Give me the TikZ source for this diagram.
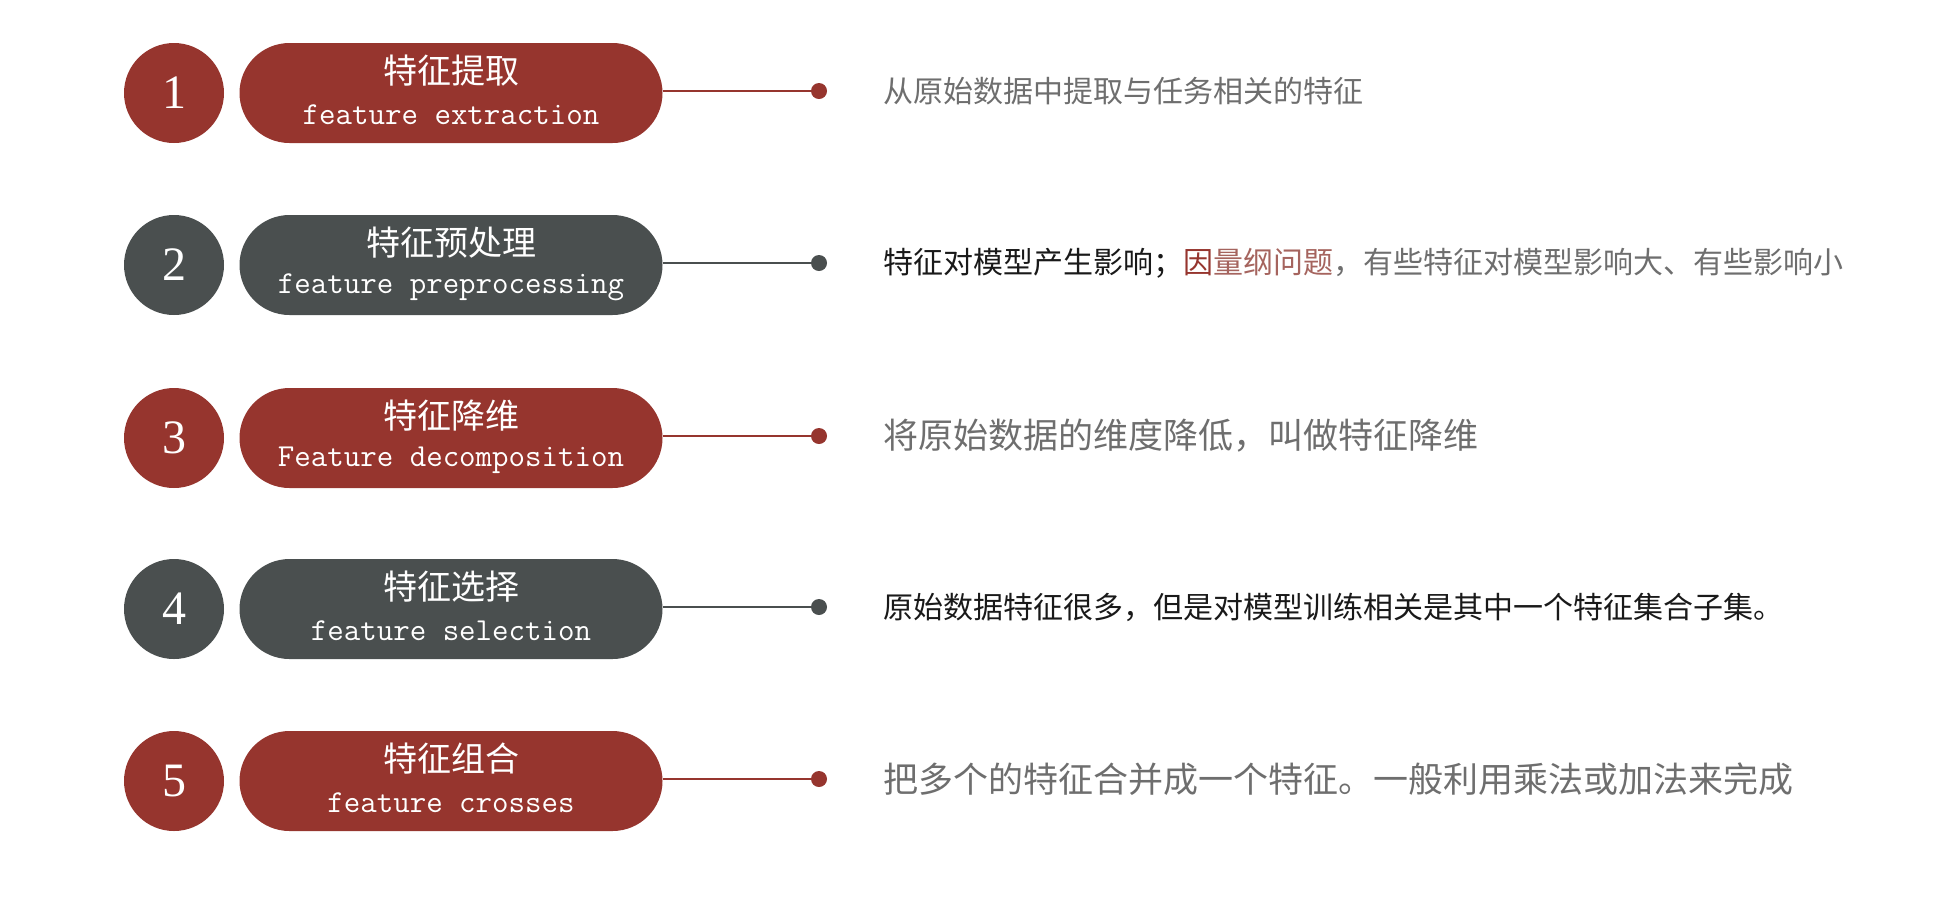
\documentclass[tikz,border=0pt]{standalone}
\usepackage{fontspec}
\setmainfont{Liberation Serif}
\newfontfamily\cjk{Noto Sans CJK SC}
\usetikzlibrary{shapes.misc,positioning}
\definecolor{brick}{HTML}{96352E}
\definecolor{slate}{HTML}{4A4F4F}
\definecolor{txtgray}{HTML}{6E6E6E}
\definecolor{lightbrick}{HTML}{A5645E}

\tikzset{
  numdisc/.style={circle,fill=#1,minimum size=50pt,inner sep=0pt,text=white,font=\fontsize{24}{26}\selectfont},
  pill/.style={rounded rectangle,fill=#1,minimum width=211.5pt,minimum height=50pt,inner sep=0pt},
  pilltext/.style={text=white,align=center},
  dot/.style={circle,fill=#1,minimum size=8pt,inner sep=0pt},
  desc/.style={anchor=west,inner sep=0pt,text=txtgray}
}

\begin{document}
\begin{tikzpicture}[x=0.5pt,y=-0.5pt]
  \useasboundingbox (0,0) rectangle (1940,896);

  % five rows: disc, pill with titles, connector and dot
  \foreach \i/\col/\y/\zh/\en in {
      1/brick/93/特征提取/feature extraction,
      2/slate/265/特征预处理/feature preprocessing,
      3/brick/438/特征降维/Feature decomposition,
      4/slate/609/特征选择/feature selection,
      5/brick/781/特征组合/feature crosses} {
    \node[numdisc=\col] (num\i) at (174,\y) {\i};
    \node[pill=\col] (step\i) at (451,\y) {};
    \node[pilltext,font=\cjk\fontsize{17}{19}\selectfont] (zh\i) at (451,\y-22) {\zh};
    \node[pilltext,font=\ttfamily\fontsize{16}{18}\selectfont] (en\i) at (451,\y+22) {\en};
    \node[dot=\col] (dot\i) at (819,\y-2) {};
    \draw[\col,line width=1.2pt] (step\i.east |- dot\i) -- (dot\i);
  }

  % descriptions
  \node[desc,font=\cjk\fontsize{15}{17}\selectfont,right=28pt of dot1] (txt1)
    {从原始数据中提取与任务相关的特征};
  \node[desc,font=\cjk\fontsize{15}{17}\selectfont,right=28pt of dot2] (txt2)
    {{\color{black!90}特征对模型产生影响；}{\color{brick}因}{\color{lightbrick}量纲问题}，有些特征对模型影响大、有些影响小};
  \node[desc,font=\cjk\fontsize{17.5}{19}\selectfont,right=28pt of dot3] (txt3)
    {将原始数据的维度降低，叫做特征降维};
  \node[desc,font=\cjk\fontsize{15}{17}\selectfont,text=black!90,right=28pt of dot4] (txt4)
    {原始数据特征很多，但是对模型训练相关是其中一个特征集合子集。};
  \node[desc,font=\cjk\fontsize{17.5}{19}\selectfont,right=28pt of dot5] (txt5)
    {把多个的特征合并成一个特征。一般利用乘法或加法来完成};
\end{tikzpicture}
\end{document}
